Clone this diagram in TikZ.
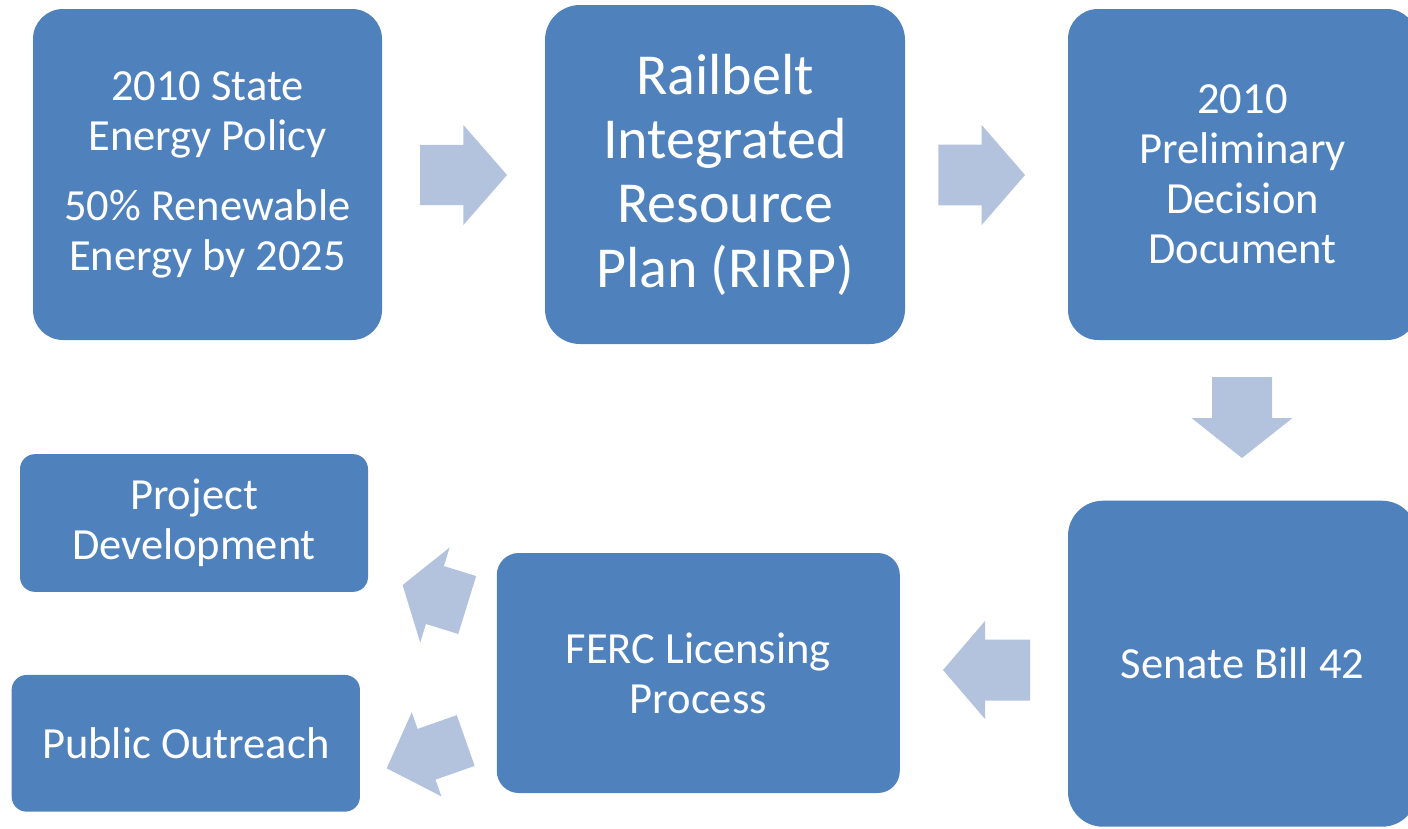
\documentclass[tikz,border=0pt]{standalone}
\usepackage{fontspec}
\setmainfont{Carlito}
\definecolor{boxblue}{HTML}{4F81BD}
\definecolor{arrowblue}{HTML}{B3C3DE}
\tikzset{
  box/.style={rectangle, fill=boxblue, text=white, align=center, inner sep=0pt,
    font=\fontsize{44.5}{50}\selectfont},
  bigtext/.style={font=\fontsize{58}{64.3}\selectfont},
  arrowfill/.style={fill=arrowblue},
}
% x y angle bodylength bodyhalfwidth headlength headhalfwidth
\newcommand\blockarrow[7]{%
  \fill[arrowfill, shift={(#1,#2)}, rotate=#3]
    (0,-#5) -- (#4,-#5) -- (#4,-#7) -- (#4+#6,0) -- (#4,#7) -- (#4,#5) -- (0,#5) -- cycle;}
\begin{document}
\begin{tikzpicture}[x=1pt, y=-1pt]
\clip (0,0) rectangle (1408,828);
\fill[white] (0,0) rectangle (1408,828);

\node[box, minimum width=349pt, minimum height=331pt, rounded corners=30pt] (policy) at (207.5,174.5)
  {2010 State\\Energy Policy\\[20pt]50\% Renewable\\Energy by 2025};
\node[box, bigtext, minimum width=360pt, minimum height=339pt, rounded corners=35pt] (rirp) at (725,174.5)
  {Railbelt\\Integrated\\Resource\\Plan (RIRP)};
\node[box, minimum width=349pt, minimum height=331pt, rounded corners=30pt] (pdd) at (1242.5,174.5)
  {2010\\Preliminary\\Decision\\Document};
\node[box, minimum width=349pt, minimum height=326pt, rounded corners=35pt] (sb) at (1242.5,663.7)
  {Senate Bill 42};
\node[box, minimum width=403pt, minimum height=240pt, rounded corners=22pt] (ferc) at (698.3,673)
  {FERC Licensing\\Process};
\node[box, minimum width=348pt, minimum height=137.7pt, rounded corners=15pt] (pd) at (194,523)
  {Project\\Development};
\node[box, minimum width=348.3pt, minimum height=136.7pt, rounded corners=15pt] (po) at (185.8,743.3)
  {Public Outreach};

% block arrows
\blockarrow{420}{175}{0}{43.4}{30.2}{43.6}{50}
\blockarrow{938.3}{175}{0}{43.4}{30.3}{43.3}{50}
\blockarrow{1242}{377}{-90}{41}{30}{40}{50.5}
\blockarrow{1030}{670}{180}{45}{30.5}{42}{49}
\blockarrow{467.2}{605}{162.8}{33.8}{30.3}{33.8}{49.8}
\blockarrow{465.7}{740.5}{199.4}{41.5}{26.9}{42.2}{44.6}
\end{tikzpicture}
\end{document}
